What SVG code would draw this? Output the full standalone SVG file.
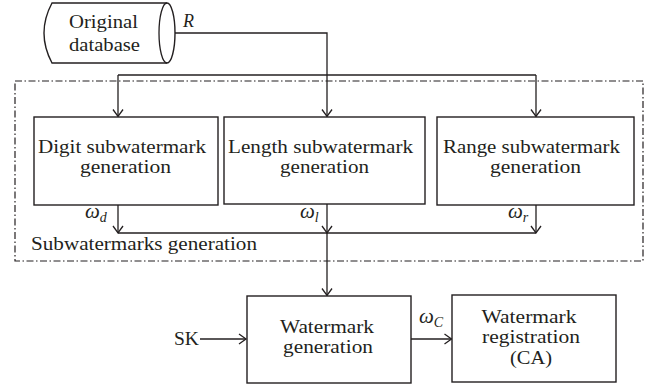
<svg xmlns="http://www.w3.org/2000/svg" width="648" height="385" viewBox="0 0 648 385">
<style>
.box{fill:#fff;stroke:#231f20;stroke-width:1.4}
.ln{fill:none;stroke:#231f20;stroke-width:1.3}
.t{font-family:"Liberation Serif","Times New Roman",serif;font-size:18px;fill:#231f20}
.m{text-anchor:middle}
.i{font-style:italic}
.w{font-size:21px}
.sub{font-size:14px}
</style>
<defs>
<marker id="a" markerWidth="10" markerHeight="12" viewBox="-8 -6 10 12" refX="0" refY="0" orient="auto" markerUnits="userSpaceOnUse">
<path d="M-7,-5 L0,0 L-7,5" fill="none" stroke="#231f20" stroke-width="1.3"/>
</marker>
</defs>
<rect x="15" y="81" width="628" height="180" fill="none" stroke="#231f20" stroke-width="1.2" stroke-dasharray="7 2.5 1.5 2.5"/>
<g id="connectors">
<path class="ln" d="M167,33 H327 V116.5" marker-end="url(#a)"/>
<path class="ln" d="M118,75 H536"/>
<path class="ln" d="M118,75 V116.5" marker-end="url(#a)"/>
<path class="ln" d="M536,75 V116.5" marker-end="url(#a)"/>
<path class="ln" d="M118,205 V233" marker-end="url(#a)"/>
<path class="ln" d="M536,205 V233" marker-end="url(#a)"/>
<path class="ln" d="M118,233 H536"/>
<path class="ln" d="M327,204 V295.5" marker-end="url(#a)"/>
<path class="ln" d="M322,226 L327,233 L332,226"/>
<path class="ln" d="M200,339 H246" marker-end="url(#a)"/>
<path class="ln" d="M411,339 H451.5" marker-end="url(#a)"/>
</g>
<g id="db">
<path class="box" d="M52,3 H167 A8,30 0 0 1 167,63 H52 Q36,33 52,3 Z"/>
<path class="ln" d="M167,3 A8,30 0 0 0 167,63"/>
<text class="t m" x="103.5" y="28" textLength="69" lengthAdjust="spacingAndGlyphs">Original</text>
<text class="t m" x="104.5" y="51" textLength="71" lengthAdjust="spacingAndGlyphs">database</text>
</g>
<text class="t i" x="183" y="27">R</text>
<g id="digit">
<rect class="box" x="34" y="117" width="184" height="88"/>
<text class="t m" x="122" y="153" textLength="168" lengthAdjust="spacingAndGlyphs">Digit subwatermark</text>
<text class="t m" x="125.5" y="173" textLength="91" lengthAdjust="spacingAndGlyphs">generation</text>
</g>
<g id="length">
<rect class="box" x="224" y="117" width="201" height="87"/>
<text class="t m" x="320.5" y="153" textLength="185" lengthAdjust="spacingAndGlyphs">Length subwatermark</text>
<text class="t m" x="324.5" y="173" textLength="89" lengthAdjust="spacingAndGlyphs">generation</text>
</g>
<g id="range">
<rect class="box" x="437" y="117" width="197" height="88"/>
<text class="t m" x="531.5" y="153" textLength="177" lengthAdjust="spacingAndGlyphs">Range subwatermark</text>
<text class="t m" x="535.5" y="173" textLength="91" lengthAdjust="spacingAndGlyphs">generation</text>
</g>
<text class="t i w" x="85" y="218">ω<tspan class="sub" dy="4">d</tspan></text>
<text class="t i w" x="300" y="218">ω<tspan class="sub" dy="4">l</tspan></text>
<text class="t i w" x="508" y="218">ω<tspan class="sub" dy="4">r</tspan></text>
<text class="t" x="31" y="250" textLength="226" lengthAdjust="spacingAndGlyphs">Subwatermarks generation</text>
<g id="wmgen">
<rect class="box" x="247" y="296" width="164" height="87"/>
<text class="t m" x="327" y="333" textLength="94" lengthAdjust="spacingAndGlyphs">Watermark</text>
<text class="t m" x="328" y="353" textLength="90" lengthAdjust="spacingAndGlyphs">generation</text>
</g>
<g id="wmreg">
<rect class="box" x="452" y="295" width="164" height="87"/>
<text class="t m" x="529" y="323" textLength="95" lengthAdjust="spacingAndGlyphs">Watermark</text>
<text class="t m" x="531" y="343" textLength="98" lengthAdjust="spacingAndGlyphs">registration</text>
<text class="t m" x="531" y="364" textLength="42" lengthAdjust="spacingAndGlyphs">(CA)</text>
</g>
<text class="t" x="174" y="345" textLength="25" lengthAdjust="spacingAndGlyphs">SK</text>
<text class="t i w" x="419" y="323">ω<tspan class="sub" dy="4">C</tspan></text>
</svg>
